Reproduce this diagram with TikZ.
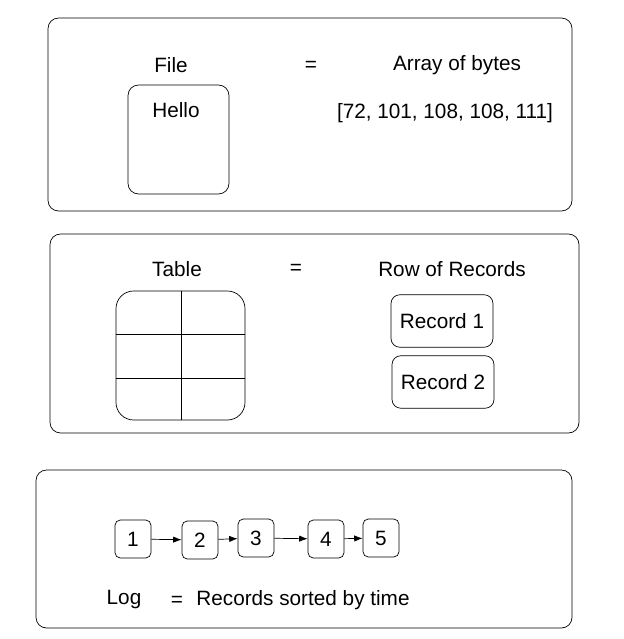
\documentclass[tikz,border=0pt]{standalone}
\usepackage{fontspec}
\setmainfont{Liberation Sans}
\usetikzlibrary{arrows.meta,positioning}
\begin{document}
\begin{tikzpicture}[x=0.02cm, y=-0.02cm, font=\fontsize{11.8}{14}\selectfont, >=Latex,
    panel/.style={draw, rounded corners=6pt, thin},
    cell/.style={draw, rounded corners=3pt, minimum width=0.72cm, minimum height=0.76cm, inner sep=0pt},
    rec/.style={draw, rounded corners=5pt, minimum width=2.04cm, minimum height=1.05cm}]

  \useasboundingbox (0, 0) rectangle (623, 639);

  % panel for files
  \draw [panel] (48, 18) rectangle (572, 211);
  \node (file) at (171, 65) {File};
  \node (eqa) at (311, 66) {=};
  \node (bytes) at (457, 65) {Array of bytes};
  \draw [rounded corners=6pt] (128, 85) rectangle (229, 194);
  \node (hello) at (176, 110) {Hello};
  \node (arr) at (445, 113) {[72, 101, 108, 108, 111]};

  % panel for tables
  \draw [panel] (50, 234) rectangle (579, 433);
  \node (table) at (177, 269) {Table};
  \node (eqb) at (296, 269) {=};
  \node (rows) at (452, 269) {Row of Records};
  \draw [rounded corners=10pt] (116, 291) rectangle (245, 420);
  \draw (181, 291) -- (181, 420);
  \draw (116, 334) -- (245, 334);
  \draw (116, 378) -- (245, 378);
  \node [rec] (rone) at (442, 321) {Record 1};
  \node [rec] (rtwo) at (443, 382) {Record 2};

  % panel for the log
  \draw [panel] (36, 470) rectangle (572, 628);
  \node [cell] (n1) at (133, 539) {1};
  \node [cell] (n2) at (200, 540) {2};
  \node [cell] (n3) at (256, 538) {3};
  \node [cell] (n4) at (326, 539) {4};
  \node [cell] (n5) at (381, 538) {5};
  \foreach \a/\b in {n1/n2, n2/n3, n3/n4, n4/n5}
    \draw [->] (\a) -- (\b);
  \node (log) at (124, 600) {Log};
  \node (eqc) at (177, 601) {=};
  \node (sorted) at (303, 600) {Records sorted by time};

\end{tikzpicture}
\end{document}
